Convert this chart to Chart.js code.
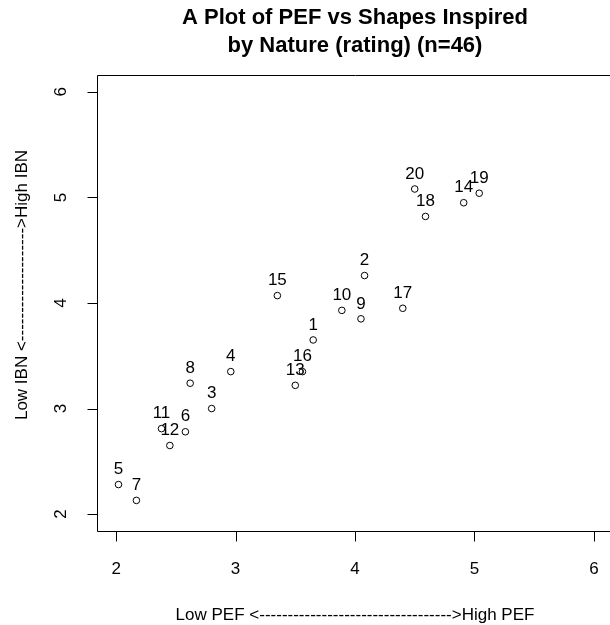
<!DOCTYPE html>
<html><head><meta charset="utf-8">
<script src="https://cdn.jsdelivr.net/npm/chart.js@4"></script>
<style>html,body{margin:0;padding:0;background:#fff;overflow:hidden}
#wrap{width:625px;height:625px;position:relative}</style>
</head><body><div id="wrap"><canvas id="c" width="625" height="625"></canvas></div>
<script>
// ---- data ----
const pointIds = ["1","2","3","4","5","6","7","8","9","10","11","12","13","14","15","16","17","18","19","20"];
const pefValues = [3.65, 4.08, 2.80, 2.96, 2.02, 2.58, 2.17, 2.62, 4.05, 3.89, 2.38, 2.45, 3.50, 4.91, 3.35, 3.56, 4.40, 4.59, 5.04, 4.50];
const ibnValues = [3.65, 4.26, 3.00, 3.35, 2.28, 2.78, 2.13, 3.24, 3.85, 3.93, 2.81, 2.65, 3.22, 4.95, 4.07, 3.35, 3.95, 4.82, 5.04, 5.08];
const xTicks = [2, 3, 4, 5, 6];
const yTicks = [2, 3, 4, 5, 6];
const titleLines = ["A Plot of PEF vs Shapes Inspired", "by Nature (rating) (n=46)"];
const xAxisTitle = "Low PEF <---------------------------------->High PEF";
const yAxisTitle = "Low IBN <-------------------->High IBN";

const FONT = '"Liberation Sans", Arial, sans-serif';

const rPlot = {
  id: 'rplot',
  afterDraw(chart) {
    const ctx = chart.ctx, a = chart.chartArea;
    const xs = chart.scales.x, ys = chart.scales.y;
    ctx.save();
    ctx.strokeStyle = '#000';
    ctx.lineWidth = 1;
    const L = Math.round(a.left) + 0.5, T = Math.round(a.top) + 0.5;
    const R = Math.round(a.right) + 0.5, B = Math.round(a.bottom) + 0.5;
    ctx.beginPath();
    // box (right side lies beyond the visible window)
    ctx.moveTo(R, T); ctx.lineTo(L, T); ctx.lineTo(L, B); ctx.lineTo(R, B);
    ctx.moveTo(R, T); ctx.lineTo(R, B);
    // x ticks
    xTicks.forEach(v => {
      const px = Math.round(xs.getPixelForValue(v)) + 0.5;
      ctx.moveTo(px, B); ctx.lineTo(px, B + 10);
    });
    yTicks.forEach(v => {
      const py = Math.round(ys.getPixelForValue(v)) + 0.5;
      ctx.moveTo(L, py); ctx.lineTo(L - 10, py);
    });
    ctx.stroke();
    // tick labels
    ctx.fillStyle = '#000';
    ctx.font = '17px ' + FONT;
    ctx.textAlign = 'center';
    ctx.textBaseline = 'middle';
    xTicks.forEach(v => ctx.fillText(String(v), xs.getPixelForValue(v), a.bottom + 38));
    yTicks.forEach(v => {
      ctx.save();
      ctx.translate(a.left - 36, ys.getPixelForValue(v));
      ctx.rotate(-Math.PI / 2);
      ctx.fillText(String(v), 0, 0);
      ctx.restore();
    });
    // axis titles
    ctx.fillText(xAxisTitle, (a.left + a.right) / 2, 615);
    ctx.save();
    ctx.translate(22, 285);
    ctx.rotate(-Math.PI / 2);
    ctx.fillText(yAxisTitle, 0, 0);
    ctx.restore();
    // title
    ctx.font = 'bold 22px ' + FONT;
    const cx = (a.left + a.right) / 2;
    ctx.fillText(titleLines[0], cx, 18);
    ctx.fillText(titleLines[1], cx, 46);
    // point labels
    ctx.font = '17px ' + FONT;
    const meta = chart.getDatasetMeta(0);
    meta.data.forEach((el, i) => {
      ctx.fillText(pointIds[i], el.x, el.y - 15);
    });
    ctx.restore();
  }
};

new Chart(document.getElementById('c'), {
  type: 'scatter',
  data: {
    datasets: [{
      data: pefValues.map((v, i) => ({x: v, y: ibnValues[i]})),
      pointStyle: 'circle',
      pointRadius: 3.3,
      pointBorderWidth: 1,
      pointBorderColor: '#000',
      pointBackgroundColor: 'rgba(0,0,0,0)'
    }]
  },
  options: {
    responsive: false,
    animation: false,
    devicePixelRatio: 1,
    layout: { padding: { left: 97, top: 75, right: 12, bottom: 94 } },
    plugins: { legend: { display: false }, tooltip: { enabled: false }, title: { display: false } },
    scales: {
      x: { type: 'linear', min: 1.84, max: 6.16, display: false },
      y: { type: 'linear', min: 1.84, max: 6.16, display: false }
    }
  },
  plugins: [rPlot]
});
</script>
</body></html>
